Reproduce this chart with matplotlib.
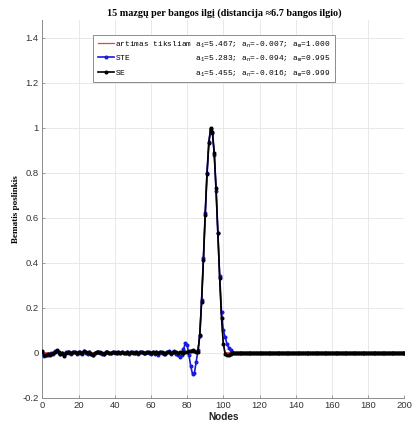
import numpy as np
import matplotlib
matplotlib.use("Agg")
import matplotlib.pyplot as plt

plt.rcParams["mathtext.fontset"] = "custom"
plt.rcParams["mathtext.rm"] = "Liberation Mono"
plt.rcParams["mathtext.it"] = "Liberation Mono"
plt.rcParams["mathtext.default"] = "rm"

# node indices along the grid
nodes = list(range(0, 201))

# reference ("close to exact") pulse: zero outside nodes 86..101
exact_start = 86
exact_pulse = [0.008, 0.084, 0.227, 0.414, 0.615, 0.798, 0.932, 1.000,
               0.980, 0.886, 0.729, 0.535, 0.336, 0.163, 0.045, 0.000]

# SE scheme: small noise before the pulse, pulse, tiny undershoot after
se_pre = [0.006, -0.010, -0.012, -0.006, -0.009, -0.004, -0.002, 0.004, 0.010, 0.002,
          -0.004, -0.003, -0.016, 0.000, 0.004, 0.002, -0.003, 0.005, 0.002, -0.002,
          0.003, 0.000, -0.003, 0.008, 0.002, -0.003, 0.001, -0.004, -0.010, -0.002,
          0.003, 0.005, 0.001, -0.003, -0.006, 0.002, 0.004, -0.001, -0.003, 0.003,
          0.001, -0.002, 0.002, -0.001, 0.003, 0.000, -0.002, 0.001, -0.003, 0.002,
          0.000, -0.001, 0.002, -0.002, 0.001, 0.003, -0.001, -0.002, 0.002, 0.001,
          -0.003, 0.002, -0.001, 0.003, -0.002, 0.001, 0.002, -0.001, -0.004, 0.002,
          0.004, -0.002, 0.003, 0.005, 0.001, -0.003, 0.001, 0.003, -0.002, 0.002,
          0.004, 0.006, 0.009, 0.011, 0.008, 0.004]
se_wave = [0.005, 0.080, 0.225, 0.410, 0.612, 0.795, 0.930, 0.999,
           0.982, 0.888, 0.730, 0.532, 0.330, 0.155, 0.040, -0.004,
           -0.010, -0.008, -0.005, -0.002]

# STE scheme: noise, oscillation ahead of the pulse, pulse, trailing tail
ste_pre = [0.004, -0.014, -0.008, -0.010, -0.006, -0.002, -0.004, 0.006, 0.008, 0.000,
           -0.006, -0.001, -0.012, 0.002, 0.003, 0.000, -0.004, 0.004, 0.003, -0.004,
           0.002, 0.002, -0.004, 0.006, 0.000, -0.004, 0.003, -0.006, -0.008, 0.000,
           0.002, 0.004, -0.001, -0.004, -0.004, 0.003, 0.002, -0.003, -0.002, 0.004,
           0.000, -0.003, 0.003, 0.000, 0.002, -0.002, -0.001, 0.003, -0.004, 0.001,
           0.002, -0.003, 0.001, -0.004, 0.003, 0.002, -0.003, -0.001, 0.004, -0.002,
           -0.005, 0.004, -0.006, 0.002, -0.008, 0.003, 0.000, -0.006, -0.003, 0.004,
           0.006, -0.005, 0.002, 0.007, -0.004]
ste_wave = [-0.008, -0.018, -0.010, 0.015, 0.042, 0.036, -0.010, -0.060, -0.095, -0.092,
            -0.040, 0.010, 0.075, 0.235, 0.420, 0.620, 0.800, 0.935, 0.995, 0.975,
            0.880, 0.720, 0.530, 0.340, 0.180, 0.100, 0.070, 0.040, 0.022, 0.010,
            0.004]

labels = ["artimas tiksliam a$_1$=5.467; a$_n$=-0.007; a$_m$=1.000",
          "STE              a$_1$=5.283; a$_n$=-0.094; a$_m$=0.995",
          "SE               a$_1$=5.455; a$_n$=-0.016; a$_m$=0.999"]

title = "15 mazgų per bangos ilgį (distancija ≈6.7 bangos ilgio)"
ylabel = "Bematis poslinkis"
xlabel = "Nodes"

n = len(nodes)
exact = [0.0] * exact_start + exact_pulse
exact = exact + [0.0] * (n - len(exact))
se = se_pre + se_wave
se = se + [0.0] * (n - len(se))
ste = ste_pre + ste_wave
ste = ste + [0.0] * (n - len(ste))

fig = plt.figure(figsize=(4.14, 4.24), dpi=100)
ax = fig.add_axes([0.1022, 0.062, 0.8744, 0.8915])

ax.plot(nodes, exact, color="#e8443a", lw=0.9, label=labels[0], zorder=3)
ax.plot(nodes, ste, color="#1a1adc", lw=1.2, marker="o", ms=1.9,
        mec="#1a1adc", mfc="#1a1adc", label=labels[1], zorder=4)
ax.plot(nodes, se, color="black", lw=1.2, marker="o", ms=1.9,
        label=labels[2], zorder=5)

ax.set_xlim(0, 200)
ax.set_ylim(-0.2, 1.48)
ax.set_xticks(np.arange(0, 201, 20))
ax.set_yticks(np.arange(-0.2, 1.41, 0.2))
ax.set_yticklabels(["-0.2", "0", "0.2", "0.4", "0.6", "0.8", "1", "1.2", "1.4"])
ax.grid(True, color="#e4e4e4", lw=0.6)
ax.set_axisbelow(True)
for side in ("top", "right"):
    ax.spines[side].set_visible(False)
for side in ("left", "bottom"):
    ax.spines[side].set_color("#8c8c8c")
    ax.spines[side].set_linewidth(0.7)
ax.tick_params(direction="in", length=2.5, width=0.6, color="#8c8c8c",
               labelsize=6.8, labelcolor="#333333", pad=2.5)
for t in ax.get_xticklabels() + ax.get_yticklabels():
    t.set_fontfamily("Liberation Sans")

leg = ax.legend(loc="upper left", bbox_to_anchor=(0.14, 0.96),
                prop={"family": "Liberation Mono", "size": 5.7},
                frameon=True, fancybox=False, edgecolor="#8c8c8c",
                framealpha=1, handlelength=2.0, handletextpad=0.2,
                labelspacing=0.62, borderpad=0.6, borderaxespad=0)
leg.get_frame().set_linewidth(0.7)

fig.text(224 / 414, 1 - 13 / 424, title, ha="center", va="center",
         family="Liberation Serif", weight="bold", fontsize=7.3)
fig.text(16 / 414, 1 - 208.7 / 424, ylabel, ha="center", va="center",
         rotation=90, family="Liberation Serif", weight="bold", fontsize=6.6)
fig.text(223.3 / 414, 1 - 417 / 424, xlabel, ha="center", va="center",
         family="Liberation Sans", weight="bold", fontsize=7.2, color="#222222")

fig.savefig("out.png", dpi=100)
